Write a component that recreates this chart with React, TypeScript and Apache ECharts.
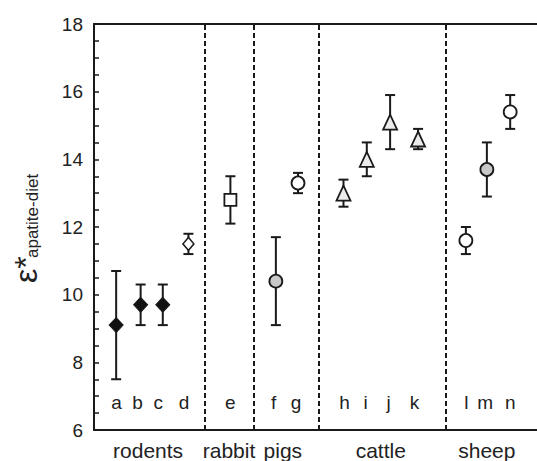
import React, { useEffect, useRef } from 'react';
import * as echarts from 'echarts';

const LETTERS = ['a', 'b', 'c', 'd', 'e', 'f', 'g', 'h', 'i', 'j', 'k', 'l', 'm', 'n'];
const X_POS = [0.95, 2.0, 2.95, 4.05, 5.85, 7.8, 8.75, 10.7, 11.7, 12.7, 13.9, 15.95, 16.85, 17.85];
const LETTER_X = [0.97, 1.87, 2.76, 3.86, 5.85, 7.71, 8.66, 10.75, 11.65, 12.64, 13.75, 15.97, 16.78, 17.85];
const MEANS = [9.1, 9.7, 9.7, 11.5, 12.8, 10.4, 13.3, 13.0, 14.0, 15.1, 14.6, 11.6, 13.7, 15.4];
const UPPER = [10.7, 10.3, 10.3, 11.8, 13.5, 11.7, 13.6, 13.4, 14.5, 15.9, 14.9, 12.0, 14.5, 15.9];
const LOWER = [7.5, 9.1, 9.1, 11.2, 12.1, 9.1, 13.0, 12.6, 13.5, 14.3, 14.3, 11.2, 12.9, 14.9];
const MARKERS = ['fd', 'fd', 'fd', 'od', 'os', 'gc', 'oc', 'gt', 'gt', 'gt', 'gt', 'oc', 'gc', 'oc'];
const GROUPS = ['rodents', 'rabbit', 'pigs', 'cattle', 'sheep'];
const GROUP_CENTERS = [2.32, 5.79, 8.1, 12.3, 16.85];
const DIVIDERS = [4.75, 6.85, 9.65, 15.1];
const LETTER_Y = 6.8;
const X_MIN = 0;
const X_MAX = 19;
const Y_MIN = 6;
const Y_MAX = 18;

const FONT = 'Liberation Sans, Arial, Helvetica, sans-serif';
const INK = '#1a1a1a';

const MARKER_STYLES: Record<string, { symbol: string; size: number | number[]; fill: string; border: number }> = {
  fd: { symbol: 'diamond', size: [14, 15], fill: '#111111', border: 1 },
  od: { symbol: 'diamond', size: [11, 13], fill: '#ffffff', border: 1.5 },
  os: { symbol: 'rect', size: 12, fill: '#ffffff', border: 1.8 },
  gc: { symbol: 'circle', size: 13, fill: '#c8c8c8', border: 1.8 },
  oc: { symbol: 'circle', size: 13, fill: '#ffffff', border: 1.8 },
  gt: { symbol: 'triangle', size: [14, 15], fill: '#ececec', border: 1.8 },
};

export default function App() {
  const ref = useRef<HTMLDivElement>(null);

  useEffect(() => {
    if (!ref.current) return;
    const chart = echarts.init(ref.current, null, { renderer: 'svg' });

    const markerSeries = Object.keys(MARKER_STYLES).map((key) => {
      const st = MARKER_STYLES[key];
      const data: number[][] = [];
      MARKERS.forEach((m, i) => {
        if (m === key) data.push([X_POS[i], MEANS[i]]);
      });
      return {
        type: 'scatter',
        name: key,
        data,
        symbol: st.symbol,
        symbolSize: st.size,
        z: 5,
        itemStyle: { color: st.fill, borderColor: INK, borderWidth: st.border, opacity: 1 },
        emphasis: { disabled: true },
        silent: true,
      };
    });

    const option: any = {
      animation: false,
      textStyle: { fontFamily: FONT },
      grid: { left: 94, top: 24, width: 443, height: 408, containLabel: false },
      xAxis: [
        {
          type: 'value',
          min: X_MIN,
          max: X_MAX,
          position: 'bottom',
          axisLine: { show: true, onZero: false, lineStyle: { color: INK, width: 2 } },
          axisTick: { show: false },
          splitLine: { show: false },
          axisLabel: {
            customValues: GROUP_CENTERS,
            margin: 10,
            color: '#222',
            fontSize: 21,
            fontFamily: FONT,
            formatter: (v: number) => {
              const idx = GROUP_CENTERS.findIndex((c) => Math.abs(c - v) < 1e-6);
              return idx >= 0 ? GROUPS[idx] : '';
            },
          },
        },
        {
          type: 'value',
          min: X_MIN,
          max: X_MAX,
          position: 'top',
          axisLine: { show: true, onZero: false, lineStyle: { color: INK, width: 2 } },
          axisTick: { show: false },
          splitLine: { show: false },
          axisLabel: { show: false },
        },
      ],
      yAxis: {
        type: 'value',
        min: Y_MIN,
        max: Y_MAX,
        interval: 0.5,
        axisLine: { show: true, onZero: false, lineStyle: { color: INK, width: 2 } },
        axisTick: { show: true, inside: true, length: 5, lineStyle: { color: INK, width: 1.5 } },
        splitLine: { show: false },
        axisLabel: {
          margin: 11,
          color: '#222',
          fontSize: 19,
          fontFamily: FONT,
          formatter: (v: number) => (Math.abs(v % 2) < 1e-6 ? String(v) : ''),
        },
      },
      graphic: [
        {
          type: 'text',
          x: 26,
          y: 283,
          rotation: Math.PI / 2,
          style: { text: 'ε*', fontSize: 32, fontFamily: FONT, fill: '#222', align: 'left', verticalAlign: 'middle' },
        },
        {
          type: 'text',
          x: 32.5,
          y: 258,
          rotation: Math.PI / 2,
          style: { text: 'apatite-diet', fontSize: 17, fontFamily: FONT, fill: '#222', align: 'left', verticalAlign: 'middle' },
        },
      ],
      series: [
        {
          type: 'custom',
          name: 'errors',
          z: 3,
          silent: true,
          data: X_POS.map((x, i) => [x, LOWER[i], UPPER[i]]),
          encode: { x: 0, y: [1, 2] },
          renderItem: (params: any, api: any) => {
            const x = api.value(0);
            const lo = api.coord([x, api.value(1)]);
            const hi = api.coord([x, api.value(2)]);
            const hw = 5;
            const style = { stroke: INK, lineWidth: 2 };
            return {
              type: 'group',
              children: [
                { type: 'line', shape: { x1: lo[0], y1: lo[1], x2: hi[0], y2: hi[1] }, style },
                { type: 'line', shape: { x1: lo[0] - hw, y1: lo[1], x2: lo[0] + hw, y2: lo[1] }, style },
                { type: 'line', shape: { x1: hi[0] - hw, y1: hi[1], x2: hi[0] + hw, y2: hi[1] }, style },
              ],
            };
          },
          markLine: {
            silent: true,
            symbol: ['none', 'none'],
            label: { show: false },
            lineStyle: { color: INK, width: 2, type: [5, 3] },
            data: DIVIDERS.map((x) => ({ xAxis: x })),
          },
        },
        ...markerSeries,
        {
          type: 'custom',
          name: 'letters',
          z: 4,
          silent: true,
          data: LETTER_X.map((x, i) => [x, LETTER_Y, i]),
          encode: { x: 0, y: 1 },
          renderItem: (params: any, api: any) => {
            const p = api.coord([api.value(0), api.value(1)]);
            const idx = api.value(2);
            return {
              type: 'text',
              x: p[0],
              y: p[1],
              style: {
                text: LETTERS[idx],
                fontSize: 19,
                fontFamily: FONT,
                fill: '#222',
                align: 'center',
                verticalAlign: 'middle',
              },
            };
          },
        },
      ],
    };

    chart.setOption(option);
    return () => chart.dispose();
  }, []);

  return (
    <div
      ref={ref}
      style={{ position: 'fixed', left: 0, top: 0, width: 537, height: 461, background: '#fff' }}
    />
  );
}
